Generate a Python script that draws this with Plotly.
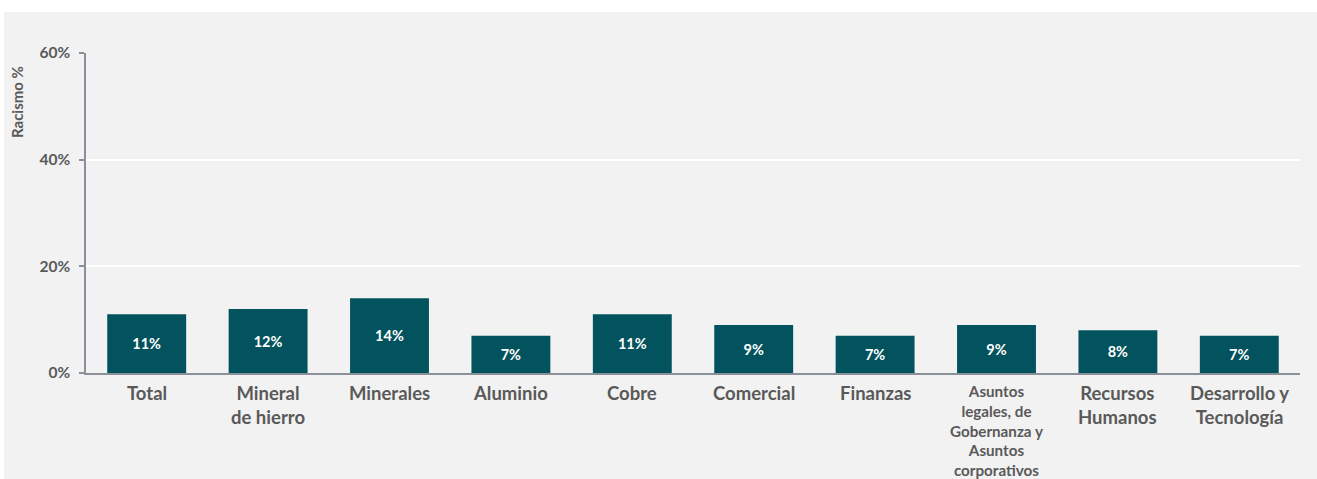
import plotly.graph_objects as go

categories = ["Total", "Mineral<br>de hierro", "Minerales", "Aluminio", "Cobre", "Comercial",
              "Finanzas", "Asuntos<br>legales, de<br>Gobernanza y<br>Asuntos<br>corporativos",
              "Recursos<br>Humanos", "Desarrollo y<br>Tecnología"]
values = [11, 12, 14, 7, 11, 9, 7, 9, 8, 7]
bar_labels = ["11%", "12%", "14%", "7%", "11%", "9%", "7%", "9%", "8%", "7%"]
y_ticks = [0, 20, 40, 60]
y_tick_labels = ["0%", "20%", "40%", "60%"]
label_sizes = [18.5, 18.5, 18.5, 18.5, 18.5, 18.5, 18.5, 15.2, 18.5, 18.5]

FONT = "Lato"
GRAY = "#595959"
BAR = "#02535D"

x_idx = list(range(len(categories)))

fig = go.Figure()
fig.add_trace(go.Bar(
    x=x_idx, y=values, text=bar_labels, textposition="inside",
    insidetextanchor="middle", textangle=0,
    textfont=dict(family=FONT, size=14.5, color="white", weight="bold"),
    marker=dict(color=BAR, line=dict(width=0)),
    hoverinfo="skip",
))

W, H = 1317, 479
L, R, T, B = 86, 17, 53, 106
pw = W - L - R
ph = H - T - B

fig.update_layout(
    width=W, height=H,
    margin=dict(l=L, r=R, t=T, b=B, pad=0),
    paper_bgcolor="white", plot_bgcolor="rgba(0,0,0,0)",
    bargap=0.35, showlegend=False,
    xaxis=dict(range=[-0.5, len(categories) - 0.5], showticklabels=False, ticks="",
               showgrid=False, showline=True, linecolor="#8A9099", linewidth=1.5,
               zeroline=False, fixedrange=True),
    yaxis=dict(range=[0, 60], tickvals=y_ticks, ticktext=y_tick_labels,
               ticks="outside", ticklen=5, tickcolor="#8A9099", tickwidth=1.5,
               ticklabelstandoff=6,
               tickfont=dict(family=FONT, size=15.5, color=GRAY, weight="bold"),
               showgrid=True, gridcolor="white", gridwidth=1.5,
               showline=True, linecolor="#8A9099", linewidth=1.5, zeroline=False),
    shapes=[dict(type="rect", xref="paper", yref="paper", layer="below",
                 x0=(4 - L) / pw, x1=(W + 5 - L) / pw,
                 y0=(T + ph - H - 5) / ph, y1=(T + ph - 12) / ph,
                 fillcolor="#F2F2F2", line=dict(width=0))],
)

for i, (c, s) in enumerate(zip(categories, label_sizes)):
    fig.add_annotation(x=i, y=0, xref="x", yref="paper", text=f"<b>{c}</b>",
                       showarrow=False, yanchor="top", xanchor="center", yshift=-7,
                       align="center",
                       font=dict(family=FONT, size=s, color=GRAY))

fig.add_annotation(x=(17 - L) / pw, y=(T + ph - 102) / ph, xref="paper", yref="paper",
                   text="<b>Racismo %</b>", textangle=-90, showarrow=False,
                   xanchor="center", yanchor="middle",
                   font=dict(family=FONT, size=15, color=GRAY))

fig.write_html("out.html")
